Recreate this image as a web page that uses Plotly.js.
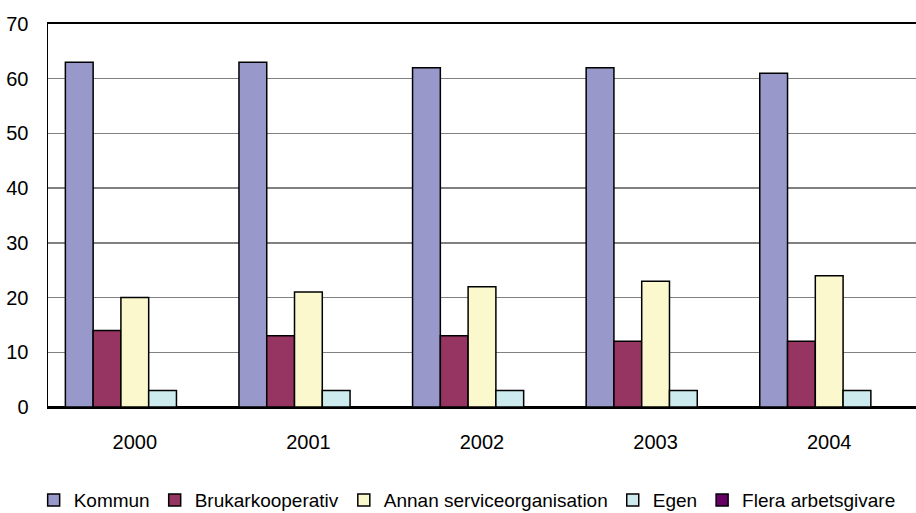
<!DOCTYPE html>
<html>
<head>
<meta charset="utf-8">
<script src="https://cdn.plot.ly/plotly-3.0.1.min.js"></script>
<style>html,body{margin:0;padding:0;background:#fff;}#chart{width:916px;height:513px;}</style>
</head>
<body>
<div id="chart"></div>
<script>
const years = ['2000', '2001', '2002', '2003', '2004'];
const kommun = [63, 63, 62, 62, 61];
const brukarkooperativ = [14, 13, 13, 12, 12];
const annan = [20, 21, 22, 23, 24];
const egen = [3, 3, 3, 3, 3];
const flera = [0, 0, 0, 0, 0];
const yTicks = [0, 10, 20, 30, 40, 50, 60, 70];

const series = [
  {name: 'Kommun', y: kommun, color: '#9898CA'},
  {name: 'Brukarkooperativ', y: brukarkooperativ, color: '#963462'},
  {name: 'Annan serviceorganisation', y: annan, color: '#FAF8CC'},
  {name: 'Egen', y: egen, color: '#CDEBEF'},
  {name: 'Flera arbetsgivare', y: flera, color: '#660066'}
];

const traces = series.map(s => ({
  type: 'bar', name: s.name, x: years, y: s.y,
  marker: {color: s.color, line: {color: '#000', width: 1.5}},
  hoverinfo: 'skip'
}));

const font = {family: '"Liberation Sans", Arial, sans-serif', size: 20, color: '#000'};

const layout = {
  width: 916, height: 513,
  margin: {l: 48, r: 0, t: 24, b: 106},
  paper_bgcolor: '#fff', plot_bgcolor: '#fff',
  font: font,
  barmode: 'group', bargap: 0.2, bargroupgap: 0,
  showlegend: true,
  legend: {
    orientation: 'h', xref: 'container', x: 0.51, xanchor: 'center',
    yref: 'container', y: 0.025, yanchor: 'middle',
    font: {family: font.family, size: 19, color: '#000'},
    itemwidth: 30, tracegroupgap: 0, traceorder: 'normal'
  },
  xaxis: {
    type: 'category', showline: true, mirror: true, linecolor: '#000', linewidth: 2,
    ticks: '', showgrid: false, tickfont: font, ticklabelstandoff: 16
  },
  yaxis: {
    range: [0, 70], tickvals: yTicks, ticktext: yTicks.map(String),
    showline: true, linecolor: '#000', linewidth: 1.5,
    showgrid: true, gridcolor: '#808080', gridwidth: 1.5,
    zeroline: true, zerolinecolor: '#000', zerolinewidth: 2,
    ticks: '', tickfont: font, ticklabelstandoff: 14
  }
};

Plotly.newPlot('chart', traces, layout, {displayModeBar: false, staticPlot: true});
</script>
</body>
</html>
